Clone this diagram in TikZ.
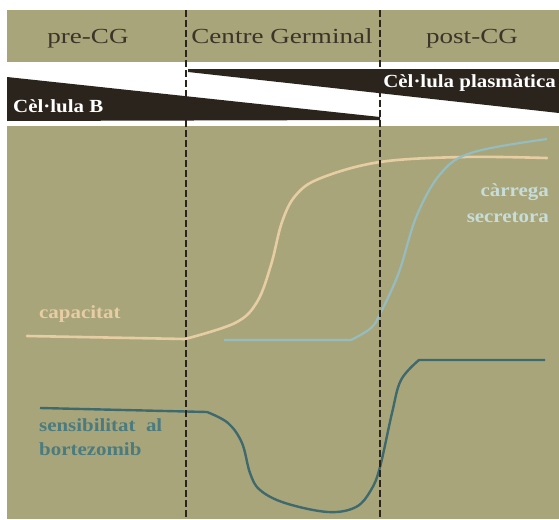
\documentclass[tikz,border=0pt]{standalone}
\usepackage{fontspec}
\setmainfont{Liberation Serif}
\newfontfamily\headfont[FakeStretch=1.26]{Liberation Serif}
\newfontfamily\lblfont[FakeStretch=1.13]{Liberation Serif}
\definecolor{bandolive}{HTML}{A9A57B}
\definecolor{wedgedark}{HTML}{2A241C}
\definecolor{headtext}{HTML}{3B3429}
\definecolor{capcol}{HTML}{E6CDA4}
\definecolor{secretcol}{HTML}{95BCBF}
\definecolor{secretlbl}{HTML}{C6DDDA}
\definecolor{bortcol}{HTML}{3E6A6E}
\definecolor{bortlbl}{HTML}{4B7B7E}

\begin{document}
\begin{tikzpicture}[x=1pt,y=-1pt,
    headlbl/.style={text=headtext,font=\headfont\fontsize{21.5}{25}\selectfont,inner sep=0pt},
    wedgelbl/.style={text=white,font=\lblfont\fontsize{18.5}{22}\selectfont\bfseries,inner sep=0pt},
    curvelbl/.style={font=\lblfont\fontsize{18.5}{22}\selectfont\bfseries,inner sep=0pt},
    phase/.style={wedgedark,line width=2pt,dash pattern=on 7pt off 3pt}]
      \useasboundingbox (0,0) rectangle (559,519);
      % bands
      \fill[white] (0,0) rectangle (559,519);
      \fill[bandolive] (7,10) rectangle (559,62);
      \fill[bandolive] (7,126) rectangle (559,519);

      % cell wedges
      \fill[wedgedark] (7,77) -- (380,117) -- (380,120) -- (7,121) -- cycle;
      \fill[wedgedark] (188,69) -- (559,69) -- (559,113) -- (188,72) -- cycle;

      % capacitat
      \draw[capcol,line width=2.6pt,line cap=round] (27,336) -- (185,339)
        plot[smooth,tension=0.6] coordinates {(185,339) (235,323) (257,302) (271,265)
          (282,222) (296,195) (321,178) (380,162) (463,157) (547,158)};
      % carrega secretora
      \draw[secretcol,line width=2.2pt] (224,340) -- (351,340)
        plot[smooth,tension=0.6] coordinates {(351,340) (371,328) (381,312) (399,272)
          (417,215) (442,172) (474,152) (547,139)};
      % sensibilitat al bortezomib
      \draw[bortcol,line width=2.4pt] (40,408) -- (207,412)
        plot[smooth,tension=0.6] coordinates {(207,412) (228,423) (242,443) (250,473)
          (260,490) (285,503) (328,512) (356,507) (371,490) (380,467) (392,413)
          (401,380) (419,360)} -- (545,360);

      % phase borders
      \foreach \x in {186, 380}
        \draw[phase] (\x,10) -- (\x,519);

      % header texts
      \node[headlbl,anchor=base] (pre) at (88,44) {pre-CG};
      \node[headlbl,anchor=base] (cg) at (282,44) {Centre Germinal};
      \node[headlbl,anchor=base] (post) at (472,44) {post-CG};
      \node[wedgelbl,anchor=base west] (bcell) at (13,112) {Cèl·lula B};
      \node[wedgelbl,anchor=base east] (pcell) at (556,87) {Cèl·lula plasmàtica};

      % curve texts
      \node[curvelbl,text=capcol,anchor=base west] (cap) at (39,318) {capacitat};
      \node[curvelbl,text=secretlbl,anchor=base east] (secA) at (549,196) {càrrega};
      \node[curvelbl,text=secretlbl,anchor=base east] (secB) at (549,222) {secretora};
      \node[curvelbl,text=bortlbl,anchor=base west] (sensA) at (39,431) {sensibilitat\ \ al};
      \node[curvelbl,text=bortlbl,anchor=base west] (sensB) at (39,455) {bortezomib};
    \end{tikzpicture}
\end{document}
